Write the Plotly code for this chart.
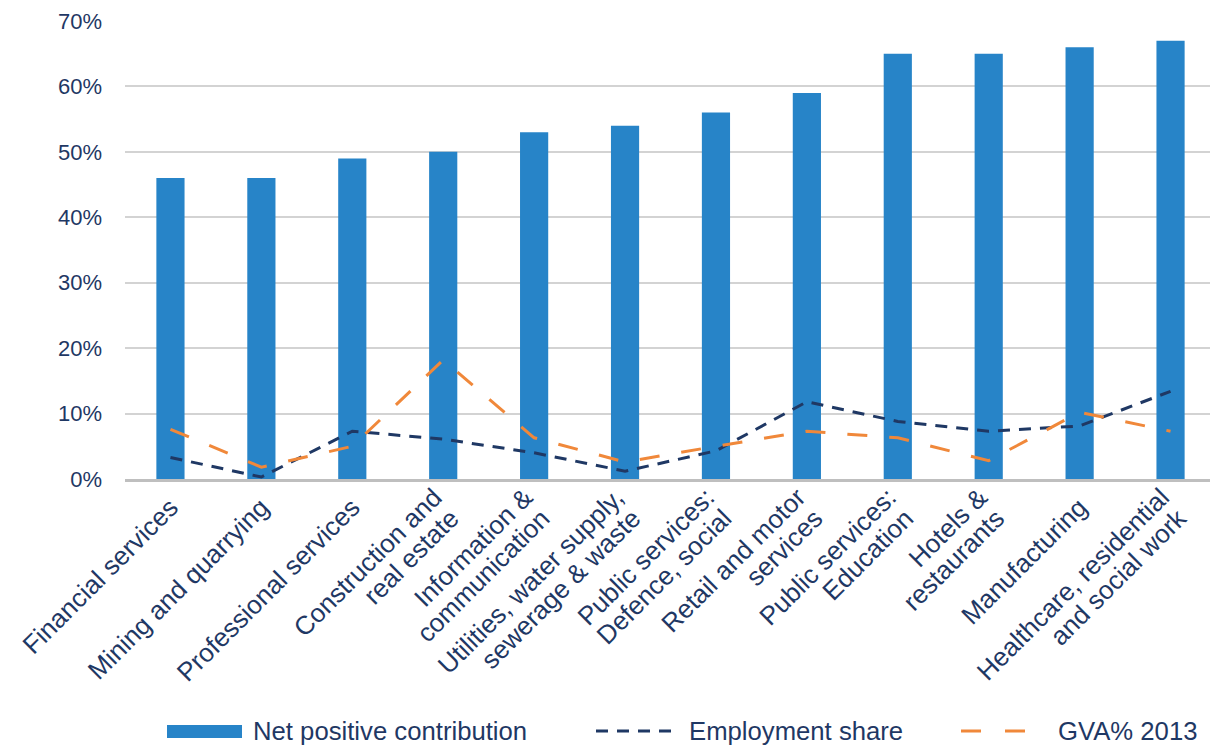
import plotly.graph_objects as go

categories = [
    "Financial services",
    "Mining and quarrying",
    "Professional services",
    "Construction and<br>real estate",
    "Information &<br>communication",
    "Utilities, water supply,<br>sewerage & waste",
    "Public services:<br>Defence, social",
    "Retail and motor<br>services",
    "Public services:<br>Education",
    "Hotels &<br>restaurants",
    "Manufacturing",
    "Healthcare, residential<br>and social work",
]
net_positive = [46, 46, 49, 50, 53, 54, 56, 59, 65, 65, 66, 67]
employment_share = [3.3, 0.3, 7.3, 6.1, 4.0, 1.2, 4.3, 11.8, 8.8, 7.3, 8.1, 13.4]
gva_2013 = [7.6, 1.8, 5.0, 18.2, 6.3, 2.6, 5.0, 7.3, 6.3, 2.8, 10.2, 7.3]
y_ticks = [0, 10, 20, 30, 40, 50, 60, 70]
series_names = ["Net positive contribution", "Employment share", "GVA% 2013"]

text_color = "#1F3864"
bar_color = "#2784C8"
emp_color = "#1F3864"
gva_color = "#F0883A"
font_family = "Liberation Sans, Arial, sans-serif"
cat_font_size = 26
legend_font_size = 25.7

W, H = 1210, 745
L, R, T, B = 125, 0, 21, 266
PW, PH = W - L - R, H - T - B


def px(x):
    return (x - L) / PW


def py(y):
    return (H - B - y) / PH


n = len(categories)
x_range = [-0.5, n - 0.5 - 6 / 90.9]

# category labels split into lines (tight line spacing like the original)
single_idx, single_txt = [], []
first_idx, first_txt = [], []
second_idx, second_txt = [], []
for i, c in enumerate(categories):
    parts = c.split("<br>")
    if len(parts) == 1:
        single_idx.append(i)
        single_txt.append(parts[0])
    else:
        first_idx.append(i)
        first_txt.append(parts[0])
        second_idx.append(i)
        second_txt.append(parts[1])

fig = go.Figure()
fig.add_trace(go.Bar(
    x=categories, y=net_positive, name=series_names[0],
    marker=dict(color=bar_color, line=dict(width=0)), width=0.31,
))
fig.add_trace(go.Scatter(
    x=categories, y=employment_share, name=series_names[1], mode="lines",
    line=dict(color=emp_color, width=3, dash="12px,9px"),
))
fig.add_trace(go.Scatter(
    x=categories, y=gva_2013, name=series_names[2], mode="lines",
    line=dict(color=gva_color, width=3, dash="20px,22px"),
))
# invisible helper traces so the label-only overlay axes get drawn
for ax, idx in (("x2", first_idx), ("x3", second_idx)):
    fig.add_trace(go.Scatter(
        x=idx, y=[0] * len(idx), xaxis=ax, yaxis="y", mode="markers",
        marker=dict(opacity=0, size=1), hoverinfo="skip", showlegend=False,
    ))

label_axis_common = dict(
    overlaying="x", anchor="y", side="bottom", range=x_range,
    showgrid=False, showline=False, zeroline=False, ticks="",
    tickmode="array", tickangle=-45, automargin=False,
    tickfont=dict(size=cat_font_size, color=text_color, family=font_family),
)

# custom legend (decoration in paper coordinates)
leg_y = 731
shapes = [
    dict(type="rect", xref="paper", yref="paper",
         x0=px(167), x1=px(242), y0=py(738), y1=py(725),
         fillcolor=bar_color, line=dict(width=0)),
    dict(type="line", xref="paper", yref="paper",
         x0=px(596), x1=px(677), y0=py(leg_y), y1=py(leg_y),
         line=dict(color=emp_color, width=3, dash="12px,9px")),
    dict(type="line", xref="paper", yref="paper",
         x0=px(961), x1=px(1025), y0=py(leg_y), y1=py(leg_y),
         line=dict(color=gva_color, width=3, dash="20px,24px")),
]
annotations = [
    dict(text=series_names[0], x=px(251), y=py(leg_y)),
    dict(text=series_names[1], x=px(687), y=py(leg_y)),
    dict(text=series_names[2], x=px(1056), y=py(leg_y)),
]
for a in annotations:
    a.update(xref="paper", yref="paper", xanchor="left", yanchor="middle",
             showarrow=False,
             font=dict(size=legend_font_size, color=text_color))

fig.update_layout(
    width=W, height=H,
    margin=dict(l=L, r=R, t=T, b=B, autoexpand=False),
    plot_bgcolor="white", paper_bgcolor="white",
    font=dict(family=font_family, size=25, color=text_color),
    showlegend=False,
    shapes=shapes,
    annotations=annotations,
    xaxis=dict(
        range=x_range, tickmode="array", tickvals=single_idx,
        ticktext=single_txt, tickangle=-45,
        showgrid=False, showline=True, linecolor="#BFBFBF",
        linewidth=3, ticks="", automargin=False,
        tickfont=dict(size=cat_font_size, color=text_color),
    ),
    xaxis2=dict(tickvals=first_idx, ticktext=first_txt,
                ticklabelshift=-9, ticklabelstandoff=-3, **label_axis_common),
    xaxis3=dict(tickvals=second_idx, ticktext=second_txt,
                ticklabelshift=8, ticklabelstandoff=18, **label_axis_common),
    yaxis=dict(
        range=[0, 70], tickvals=y_ticks,
        ticktext=[f"{v}%" for v in y_ticks],
        showgrid=True, gridcolor="#D3D3D3", gridwidth=2,
        zeroline=False, ticks="", ticklabelstandoff=22, automargin=False,
        tickfont=dict(size=22, color=text_color),
    ),
)

fig.write_html(
    "out.html",
    config={"displayModeBar": False},
    post_script="document.body.style.margin='0';document.body.style.overflow='hidden';",
)
